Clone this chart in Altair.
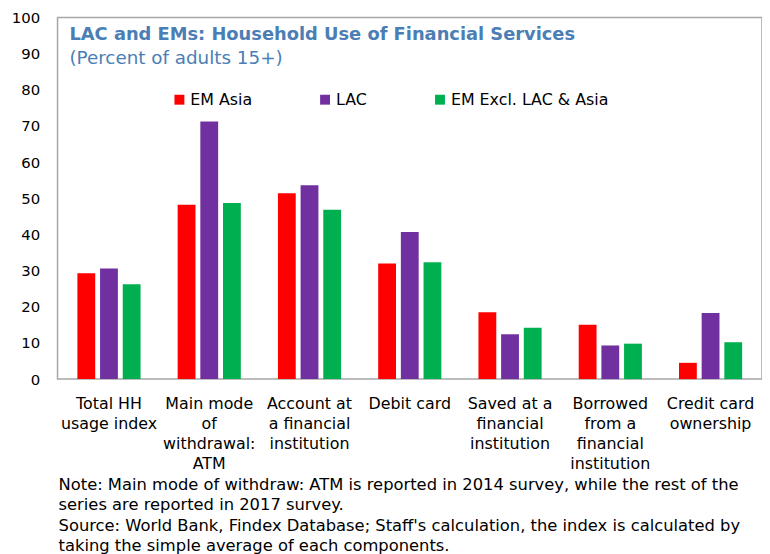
import altair as alt
import pandas as pd

categories = ["Total HH usage index", "Main mode of withdrawal: ATM",
              "Account at a financial institution", "Debit card",
              "Saved at a financial institution", "Borrowed from a financial institution",
              "Credit card ownership"]
wrapped = [["Total HH", "usage index"], ["Main mode", "of", "withdrawal:", "ATM"],
           ["Account at", "a financial", "institution"], ["Debit card"],
           ["Saved at a", "financial", "institution"],
           ["Borrowed", "from a", "financial", "institution"],
           ["Credit card", "ownership"]]
series = ["EM Asia", "LAC", "EM Excl. LAC & Asia"]
colors = ["#FF0000", "#7030A0", "#00B050"]
em_asia = [29.3, 48.2, 51.4, 32.0, 18.5, 15.0, 4.5]
lac = [30.6, 71.2, 53.6, 40.7, 12.4, 9.3, 18.3]
em_other = [26.2, 48.7, 46.8, 32.3, 14.2, 9.8, 10.2]
y_ticks = list(range(0, 101, 10))

title_text = "LAC and EMs: Household Use of Financial Services"
subtitle_text = "(Percent of adults 15+)"
footer = [
    "Note: Main mode of withdraw: ATM is reported in 2014 survey, while the rest of the",
    "series are reported  in 2017 survey.",
    "Source: World Bank, Findex Database; Staff's calculation, the index is calculated by",
    "taking the simple average of each components.",
]

rows = []
for s, vals in zip(series, [em_asia, lac, em_other]):
    for c, v in zip(categories, vals):
        rows.append({"category": c, "series": s, "value": v})
df = pd.DataFrame(rows)

FONT = "DejaVu Sans"
TITLE_COLOR = "#4A7EB5"

label_expr = "%s[indexof(%s, datum.value)]" % (
    "[" + ",".join("[" + ",".join("'%s'" % w for w in ws) + "]" for ws in wrapped) + "]",
    "[" + ",".join("'%s'" % c for c in categories) + "]",
)

bars = alt.Chart(df).mark_bar().encode(
    x=alt.X("category:N", sort=categories, title=None,
            scale=alt.Scale(paddingInner=0.37, paddingOuter=0.198),
            axis=alt.Axis(labelExpr=label_expr, labelAngle=0, ticks=False, domain=False,
                          labelFont=FONT, labelFontSize=16, labelColor="black",
                          labelLineHeight=20, labelPadding=17, labelLimit=0,
                          labelBaseline="top")),
    xOffset=alt.XOffset("series:N", sort=series,
                        scale=alt.Scale(paddingInner=0.214, paddingOuter=0)),
    y=alt.Y("value:Q", title=None,
            scale=alt.Scale(domain=[0, 100], nice=False),
            axis=alt.Axis(values=y_ticks, grid=False, ticks=False, domain=False,
                          labelFont=FONT, labelFontSize=15, labelColor="black",
                          labelPadding=18)),
    color=alt.Color("series:N", sort=series,
                    scale=alt.Scale(domain=series, range=colors),
                    legend=alt.Legend(orient="none", legendX=115, legendY=75,
                                      direction="horizontal", title=None,
                                      symbolType="square", symbolSize=100,
                                      symbolStrokeWidth=0, labelFont=FONT,
                                      labelFontSize=16, labelColor="black",
                                      columnPadding=65, labelOffset=3)),
)

layers = [bars]
one = pd.DataFrame({"k": [0]})
layers.append(alt.Chart(one).mark_text(align="left", baseline="middle", font=FONT,
                                       fontSize=18, fontWeight="bold", color=TITLE_COLOR)
              .encode(x=alt.value(12), y=alt.value(18), text=alt.value(title_text)))
layers.append(alt.Chart(one).mark_text(align="left", baseline="middle", font=FONT,
                                       fontSize=18.5, color=TITLE_COLOR)
              .encode(x=alt.value(12), y=alt.value(41), text=alt.value(subtitle_text)))
for i, line in enumerate(footer):
    ypos = [472, 492, 513, 533][i]
    layers.append(alt.Chart(one).mark_text(align="left", baseline="middle", font=FONT,
                                           fontSize=16.5, color="black")
                  .encode(x=alt.value(1), y=alt.value(ypos), text=alt.value(line)))

chart = alt.layer(*layers).properties(
    width=711, height=365,
    padding={"left": 50, "top": 7, "right": 0, "bottom": 178},
    autosize=alt.AutoSizeParams(type="none"),
).configure_view(stroke="#A6A6A6", strokeWidth=1.5)

chart.save("out.html", embed_options={"renderer": "svg", "actions": False})
